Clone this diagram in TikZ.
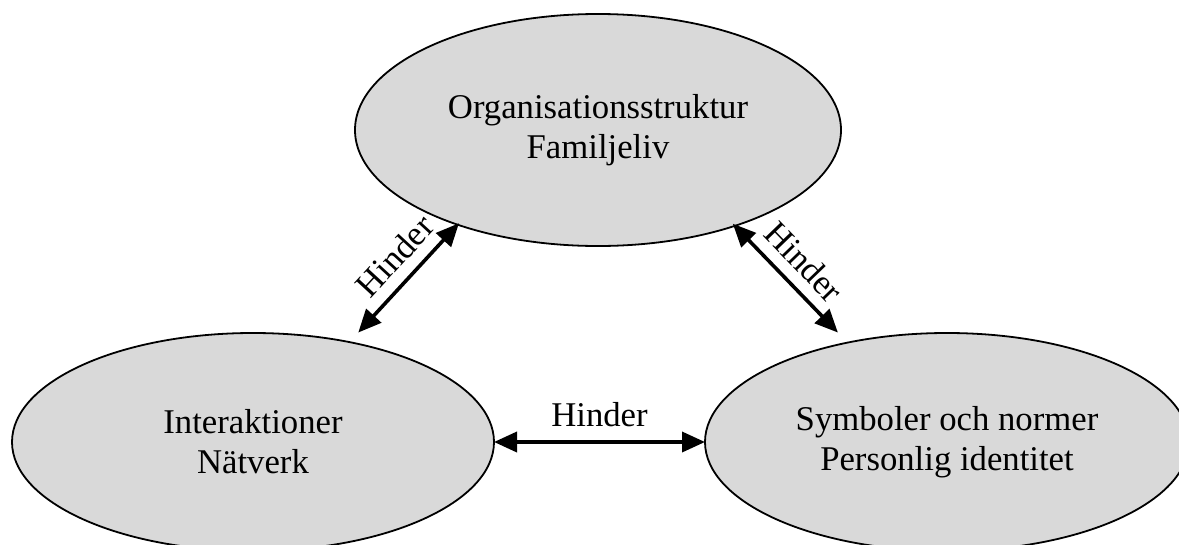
\documentclass[tikz,border=0pt]{standalone}
\usepackage{fontspec}
\setmainfont{Liberation Serif}
\usetikzlibrary{shapes.geometric,arrows.meta}
\definecolor{ellfill}{RGB}{217,217,217}
\tikzset{
  blob/.style={ellipse, draw=black, line width=1.8pt, fill=ellfill, inner sep=0pt, outer sep=0pt,
    align=center, font=\fontsize{34.7}{40}\selectfont},
  link/.style={{Triangle[length=23pt,width=20pt]}-{Triangle[length=23pt,width=20pt]}, line width=3.6pt},
  lbl/.style={inner sep=0pt, font=\fontsize{34.7}{40}\selectfont}
}
\begin{document}
\begin{tikzpicture}[x=1pt,y=-1pt]
\useasboundingbox[fill=white] (0,0) rectangle (1179,544);
\node[blob, minimum width=486pt, minimum height=232pt] (top) at (598,130) {Organisationsstruktur\\Familjeliv};
\node[blob, minimum width=482pt, minimum height=218pt] (left) at (253,442) {Interaktioner\\Nätverk};
\node[blob, minimum width=484pt, minimum height=218pt] (right) at (947,442) {Symboler och normer\\Personlig identitet};
\draw[link] (left.east) -- (right.west) node[lbl, midway, above=13pt] {Hinder};
\draw[link, shorten <=-2pt, shorten >=13pt] (top.214.6) -- (left.46.7) node[lbl, pos=0.41, sloped, above=11pt] {Hinder};
\draw[link, shorten <=-3pt, shorten >=14pt] (top.325.2) -- (right.135.1) node[lbl, pos=0.454, sloped, above=11pt] {Hinder};
\end{tikzpicture}
\end{document}
